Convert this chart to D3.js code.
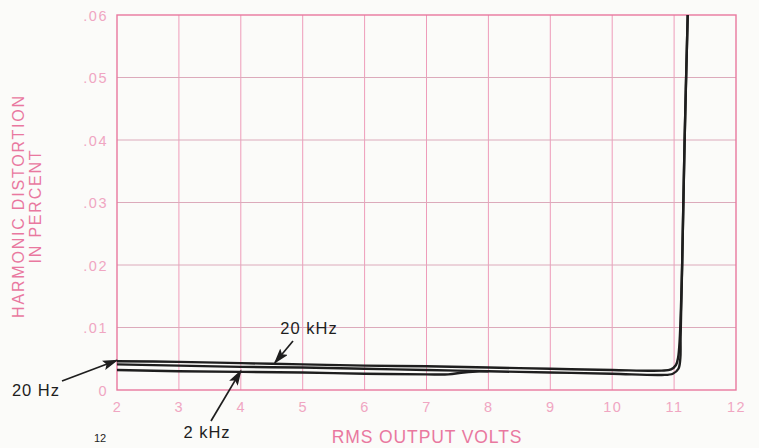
<!DOCTYPE html>
<html><head><meta charset="utf-8">
<script src="https://cdn.jsdelivr.net/npm/d3@7"></script>
<style>
html,body{margin:0;padding:0;background:#fbfbf9;}
svg{display:block;font-family:"Liberation Sans",Arial,Helvetica,sans-serif;}
</style></head>
<body><svg id="c" width="759" height="448"></svg>
<script>
// ---- data ----
const xTicks = [2,3,4,5,6,7,8,9,10,11,12];
const yTicks = [0,0.01,0.02,0.03,0.04,0.05,0.06];
const yTickLabels = ["0",".01",".02",".03",".04",".05",".06"];
const seriesNames = ["20 Hz","20 kHz","2 kHz"];
const hz20 = [[2,.0046],[3,.0045],[4,.0043],[5,.0041],[6,.0039],[7,.0038],[8,.0036],[9,.0034],[10,.0032],[10.8,.0031],[10.95,.0033],[11.03,.0040],[11.065,.0052],[11.09,.008],[11.13,.02],[11.17,.04],[11.22,.06]];
const khz20 = [[2,.0041],[3,.0039],[4,.0037],[5,.0036],[6,.0034],[7,.0032],[8,.0030],[9,.0028],[10,.0026],[10.8,.0024],[10.98,.0026],[11.07,.0034],[11.10,.0050],[11.105,.0085],[11.13,.02],[11.17,.04],[11.22,.06]];
const khz2 = [[2,.0032],[3,.0030],[4,.0029],[5,.0028],[6,.0026],[7,.0025],[7.35,.0025],[7.6,.0028],[7.85,.0030],[8,.0030]];
const xTitle = "RMS OUTPUT VOLTS";
const yTitle1 = "HARMONIC DISTORTION";
const yTitle2 = "IN PERCENT";
const pageNo = "12";

// ---- chart ----
const svg = d3.select("#c");
const x = d3.scaleLinear().domain([2,12]).range([117,736]);
const y = d3.scaleLinear().domain([0,0.06]).range([390,15]);
const pink = "#e9789f", gridC = "#ee9cba", labC = "#f0a6c2";

// grid
svg.append("g").selectAll("line").data(xTicks.slice(1,-1)).join("line")
  .attr("x1",d=>x(d)).attr("x2",d=>x(d)).attr("y1",y(0)).attr("y2",y(0.06))
  .attr("stroke",gridC).attr("stroke-width",1);
svg.append("g").selectAll("line").data(yTicks.slice(1,-1)).join("line")
  .attr("y1",d=>y(d)).attr("y2",d=>y(d)).attr("x1",x(2)).attr("x2",x(12))
  .attr("stroke","#dcaabb").attr("stroke-width",1);
svg.append("rect").attr("x",x(2)).attr("y",y(0.06)).attr("width",x(12)-x(2)).attr("height",y(0)-y(0.06))
  .attr("fill","none").attr("stroke",pink).attr("stroke-width",1.4);

// axes
const xa = svg.append("g").attr("transform",`translate(0,${y(0)})`)
  .call(d3.axisBottom(x).tickValues(xTicks).tickSize(0).tickPadding(12).tickFormat(d3.format("d")));
const ya = svg.append("g").attr("transform",`translate(${x(2)},0)`)
  .call(d3.axisLeft(y).tickValues(yTicks).tickSize(0).tickPadding(9).tickFormat((d,i)=>yTickLabels[i]));
[xa,ya].forEach(a=>{a.select(".domain").remove();
  a.selectAll("text").attr("fill",labC).attr("font-size",14.5).attr("letter-spacing","1.5px")
   .attr("font-family","Liberation Sans, Arial, sans-serif");});
ya.selectAll("text").attr("dy","0.35em");

// titles
svg.append("text").attr("x",427).attr("y",443).attr("text-anchor","middle")
  .attr("fill",pink).attr("font-size",17.5).attr("letter-spacing","0.9px").text(xTitle);
svg.append("text").attr("transform","translate(24,206) rotate(-90)").attr("text-anchor","middle")
  .attr("fill",pink).attr("font-size",16).attr("letter-spacing","1.8px").text(yTitle1);
svg.append("text").attr("transform","translate(41,206) rotate(-90)").attr("text-anchor","middle")
  .attr("fill",pink).attr("font-size",16).attr("letter-spacing","1.8px").text(yTitle2);

// curves
svg.append("defs").append("clipPath").attr("id","clip").append("rect")
  .attr("x",x(2)-3).attr("y",y(0.06)).attr("width",x(12)-x(2)+6).attr("height",y(0)-y(0.06));
const line = d3.line().x(d=>x(d[0])).y(d=>y(d[1])).curve(d3.curveCatmullRom.alpha(0.5));
const g = svg.append("g").attr("clip-path","url(#clip)");
[hz20,khz20,khz2].forEach(s=>{
  g.append("path").datum(s).attr("d",line).attr("fill","none")
   .attr("stroke","#1e1e1e").attr("stroke-width",2.4).attr("stroke-linejoin","round");
});

// annotations
const mk = svg.select("defs").append("marker").attr("id","ah").attr("viewBox","0 0 10 10")
  .attr("refX",9).attr("refY",5).attr("markerWidth",16).attr("markerHeight",10).attr("orient","auto")
  .attr("markerUnits","userSpaceOnUse").attr("preserveAspectRatio","none");
mk.append("path").attr("d","M0,0 L10,5 L0,10 L2,5 Z").attr("fill","#1e1e1e");
const ann = [
  {t:seriesNames[0], tx:36, ty:396, x1:62, y1:381, px:2.0, py:.0046},
  {t:seriesNames[1], tx:309, ty:334, x1:293, y1:341, px:4.55, py:.0042},
  {t:seriesNames[2], tx:207, ty:438, x1:211, y1:421, px:4.0, py:.0029}
];
ann.forEach(a=>{
  svg.append("line").attr("x1",a.x1).attr("y1",a.y1).attr("x2",x(a.px)).attr("y2",y(a.py)-1)
    .attr("stroke","#1e1e1e").attr("stroke-width",1.7).attr("marker-end","url(#ah)");
  svg.append("text").attr("x",a.tx).attr("y",a.ty).attr("text-anchor","middle")
    .attr("fill","#1e1e1e").attr("font-size",16.5).attr("letter-spacing","1px").text(a.t);
});
svg.append("text").attr("x",100).attr("y",442).attr("text-anchor","middle")
  .attr("fill","#1e1e1e").attr("font-size",11).text(pageNo);
</script></body></html>
